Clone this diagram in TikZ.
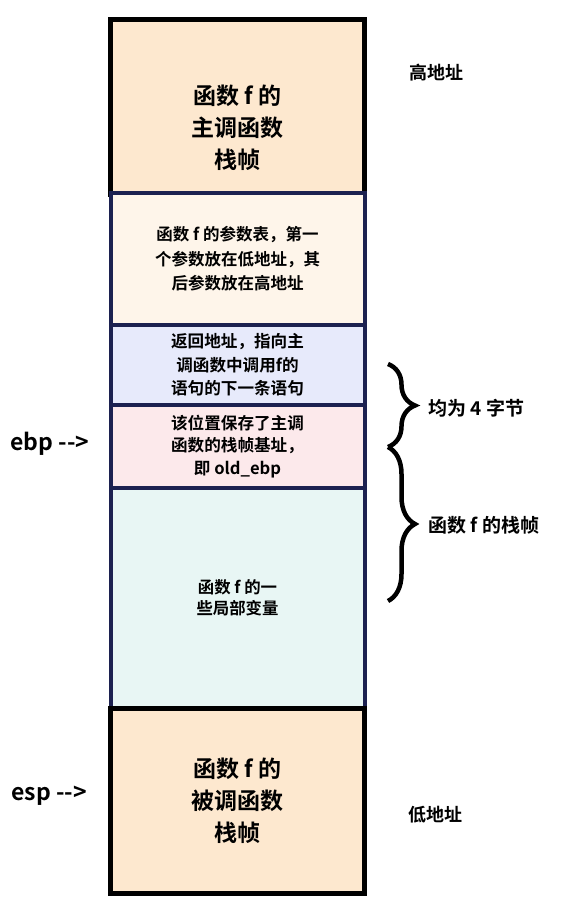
\documentclass[tikz,border=0pt]{standalone}
\usepackage{fontspec}
\setmainfont{Noto Sans CJK SC}[BoldFont={Noto Sans CJK SC Bold}]
\usetikzlibrary{decorations.pathreplacing}

\definecolor{peach}{HTML}{FDE8CF}
\definecolor{cream}{HTML}{FEF5EA}
\definecolor{lavender}{HTML}{E7EAFB}
\definecolor{blush}{HTML}{FCE9EB}
\definecolor{mint}{HTML}{E8F6F4}
\definecolor{navy}{HTML}{1C2150}

\tikzset{
cell/.style={draw, line width=4pt, minimum width=254pt, anchor=north, align=center, font=\bfseries},
side/.style={anchor=west, font=\bfseries},
curly/.style={decorate, decoration={brace, amplitude=27pt}, line width=4.5pt}
}

\begin{document}
\begin{tikzpicture}[x=1pt, y=-1pt]

\useasboundingbox (0,0) rectangle (564,912);

%%%%%%%%%%%%%%%%%%%%%%%%%%%%%%%%%%%%%%%%%%%%%%%%%%%%%%%%%%%%
% Caller frame
%%%%%%%%%%%%%%%%%%%%%%%%%%%%%%%%%%%%%%%%%%%%%%%%%%%%%%%%%%%%

\node[
cell,
line width=5pt,
fill=peach,
minimum height=174pt
](caller)
at (237.5,17.5)
{};

\node[align=center, font=\bfseries\fontsize{23}{32}\selectfont](callertext)
at ([yshift=-21pt]caller.center)
{函数 f 的\\主调函数\\栈帧};

%%%%%%%%%%%%%%%%%%%%%%%%%%%%%%%%%%%%%%%%%%%%%%%%%%%%%%%%%%%%
% Frame of f
%%%%%%%%%%%%%%%%%%%%%%%%%%%%%%%%%%%%%%%%%%%%%%%%%%%%%%%%%%%%

\node[
cell,
draw=navy,
fill=cream,
minimum height=132pt,
font=\bfseries\fontsize{16.5}{24.5}\selectfont
](params)
at (237.5,191)
{函数 f 的参数表，第一\\个参数放在低地址，其\\后参数放在高地址};

\node[
cell,
draw=navy,
fill=lavender,
minimum height=80pt,
font=\bfseries\fontsize{16.6}{23.5}\selectfont
](retaddr)
at (237.5,323)
{返回地址，指向主\\调函数中调用f的\\语句的下一条语句};

\node[
cell,
draw=navy,
fill=blush,
minimum height=83pt,
font=\bfseries\fontsize{16.6}{22.5}\selectfont
](oldebp)
at (237.5,403)
{该位置保存了主调\\函数的栈帧基址，\\即 old\_ebp};

\node[
cell,
draw=navy,
fill=mint,
minimum height=220pt,
font=\bfseries\fontsize{16.4}{21}\selectfont
](locals)
at (237.5,486)
{函数 f 的一\\些局部变量};

%%%%%%%%%%%%%%%%%%%%%%%%%%%%%%%%%%%%%%%%%%%%%%%%%%%%%%%%%%%%
% Callee frame
%%%%%%%%%%%%%%%%%%%%%%%%%%%%%%%%%%%%%%%%%%%%%%%%%%%%%%%%%%%%

\node[
cell,
line width=5pt,
fill=peach,
minimum height=185pt,
font=\bfseries\fontsize{23}{32}\selectfont
](callee)
at (237.5,706)
{函数 f 的\\被调函数\\栈帧};

%%%%%%%%%%%%%%%%%%%%%%%%%%%%%%%%%%%%%%%%%%%%%%%%%%%%%%%%%%%%
% Labels
%%%%%%%%%%%%%%%%%%%%%%%%%%%%%%%%%%%%%%%%%%%%%%%%%%%%%%%%%%%%

\node[side, font=\bfseries\fontsize{18}{20}\selectfont](high) at (406,73) {高地址};
\node[side, font=\bfseries\fontsize{18}{20}\selectfont](low) at (405,815) {低地址};

\node[side, font=\bfseries\fontsize{23}{26}\selectfont](ebp) at (7,444) {ebp -{}->};
\node[side, font=\bfseries\fontsize{23}{26}\selectfont](esp) at (8,796) {esp -{}->};

\coordinate (b1top) at (388,364);
\coordinate (b1bot) at (388,447);
\coordinate (b2bot) at (388,601);

\draw[curly] (b1top) -- (b1bot);
\draw[curly] (b1bot) -- (b2bot);

\node[side, font=\bfseries\fontsize{19}{22}\selectfont](bytes) at (425,408) {均为 4 字节};
\node[side, font=\bfseries\fontsize{19}{22}\selectfont](fframe) at (425,525) {函数 f 的栈帧};

\end{tikzpicture}
\end{document}
